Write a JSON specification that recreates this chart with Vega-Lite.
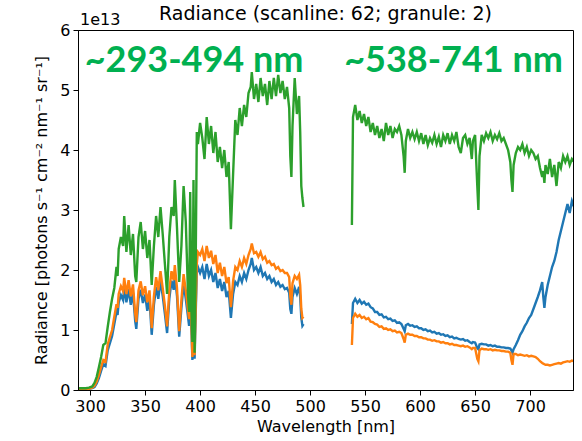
{
  "$schema": "https://vega.github.io/schema/vega-lite/v6.json",
  "autosize": "none",
  "width": 495,
  "height": 360,
  "padding": {"left": 78, "top": 30, "right": 9, "bottom": 51},
  "background": "white",
  "title": {"text": "Radiance (scanline: 62; granule: 2)", "font": "DejaVu Sans", "fontSize": 19, "fontWeight": "normal", "color": "black", "anchor": "middle", "offset": -12},
  "config": {
    "view": {"stroke": "black", "strokeWidth": 1},
    "axis": {"grid": false, "domainColor": "black", "tickColor": "black", "labelColor": "black", "titleColor": "black", "labelFont": "DejaVu Sans", "titleFont": "DejaVu Sans", "labelFontSize": 16, "titleFontSize": 16, "titleFontWeight": "normal", "tickSize": 5, "labelPadding": 3}
  },
  "datasets": {
    "spec": [
      {"w":290,"s":1,"b":0.02,"o":0.02,"g":0.03},
      {"w":293,"s":1,"b":0.02,"o":0.02,"g":0.03},
      {"w":296,"s":1,"b":0.02,"o":0.02,"g":0.03},
      {"w":299,"s":1,"b":0.02,"o":0.02,"g":0.04},
      {"w":302,"s":1,"b":0.03,"o":0.04,"g":0.06},
      {"w":304,"s":1,"b":0.05,"o":0.07,"g":0.12},
      {"w":306,"s":1,"b":0.11,"o":0.14,"g":0.22},
      {"w":308,"s":1,"b":0.2,"o":0.25,"g":0.38},
      {"w":310,"s":1,"b":0.32,"o":0.38,"g":0.55},
      {"w":312,"s":1,"b":0.43,"o":0.5,"g":0.75},
      {"w":314,"s":1,"b":0.4,"o":0.47,"g":0.78},
      {"w":316,"s":1,"b":0.66,"o":0.76,"g":1.05},
      {"w":318,"s":1,"b":0.78,"o":0.88,"g":1.3},
      {"w":320,"s":1,"b":0.9,"o":1.0,"g":1.52},
      {"w":322,"s":1,"b":1.1,"o":1.22,"g":1.7},
      {"w":324,"s":1,"b":1.3,"o":1.43,"g":2.05},
      {"w":325,"s":1,"b":1.25,"o":1.37,"g":1.9},
      {"w":326,"s":1,"b":1.46,"o":1.6,"g":2.35},
      {"w":328,"s":1,"b":1.58,"o":1.73,"g":2.55},
      {"w":330,"s":1,"b":1.5,"o":1.65,"g":2.4},
      {"w":331,"s":1,"b":1.72,"o":1.87,"g":2.9},
      {"w":333,"s":1,"b":1.46,"o":1.6,"g":2.3},
      {"w":335,"s":1,"b":1.68,"o":1.83,"g":2.75},
      {"w":337,"s":1,"b":1.42,"o":1.56,"g":2.25},
      {"w":339,"s":1,"b":1.62,"o":1.76,"g":2.6},
      {"w":341,"s":1,"b":1.15,"o":1.27,"g":1.9},
      {"w":342,"s":1,"b":1.02,"o":1.13,"g":1.8},
      {"w":344,"s":1,"b":1.52,"o":1.66,"g":2.55},
      {"w":346,"s":1,"b":1.67,"o":1.81,"g":2.8},
      {"w":348,"s":1,"b":1.45,"o":1.58,"g":2.35},
      {"w":350,"s":1,"b":1.59,"o":1.73,"g":2.65},
      {"w":352,"s":1,"b":1.32,"o":1.46,"g":2.2},
      {"w":354,"s":1,"b":1.52,"o":1.66,"g":2.5},
      {"w":356,"s":1,"b":0.92,"o":1.03,"g":1.75},
      {"w":358,"s":1,"b":1.42,"o":1.56,"g":2.4},
      {"w":360,"s":1,"b":1.72,"o":1.88,"g":2.9},
      {"w":362,"s":1,"b":1.52,"o":1.66,"g":2.55},
      {"w":364,"s":1,"b":1.82,"o":1.98,"g":3.05},
      {"w":366,"s":1,"b":1.57,"o":1.7,"g":2.6},
      {"w":368,"s":1,"b":1.27,"o":1.4,"g":2.1},
      {"w":370,"s":1,"b":0.95,"o":1.06,"g":1.6},
      {"w":372,"s":1,"b":1.52,"o":1.66,"g":2.55},
      {"w":374,"s":1,"b":1.82,"o":1.98,"g":3.05},
      {"w":376,"s":1,"b":1.67,"o":1.83,"g":2.9},
      {"w":377,"s":1,"b":1.92,"o":2.08,"g":3.5},
      {"w":379,"s":1,"b":1.57,"o":1.7,"g":2.7},
      {"w":381,"s":1,"b":0.89,"o":0.98,"g":1.8},
      {"w":383,"s":1,"b":1.37,"o":1.5,"g":2.4},
      {"w":385,"s":1,"b":1.77,"o":1.93,"g":3.4},
      {"w":387,"s":1,"b":1.52,"o":1.66,"g":2.8},
      {"w":389,"s":1,"b":1.22,"o":1.33,"g":1.6},
      {"w":390,"s":1,"b":1.07,"o":1.18,"g":1.3},
      {"w":391,"s":1,"b":1.62,"o":1.76,"g":3.3},
      {"w":392,"s":1,"b":1.07,"o":1.18,"g":1.4},
      {"w":393,"s":1,"b":0.5,"o":0.55,"g":0.8},
      {"w":394,"s":1,"b":1.47,"o":1.6,"g":3.5},
      {"w":395,"s":1,"b":0.52,"o":0.58,"g":0.62},
      {"w":396,"s":1,"b":1.27,"o":1.38,"g":2.1},
      {"w":397,"s":1,"b":1.95,"o":2.1,"g":4.3},
      {"w":398,"s":1,"b":2.05,"o":2.3,"g":4.1},
      {"w":400,"s":1,"b":1.95,"o":2.25,"g":4.45},
      {"w":402,"s":1,"b":2.05,"o":2.35,"g":4.2},
      {"w":404,"s":1,"b":1.85,"o":2.15,"g":3.85},
      {"w":406,"s":1,"b":2.1,"o":2.4,"g":4.55},
      {"w":408,"s":1,"b":1.9,"o":2.2,"g":4.1},
      {"w":410,"s":1,"b":2.0,"o":2.32,"g":4.4},
      {"w":412,"s":1,"b":1.8,"o":2.1,"g":3.95},
      {"w":414,"s":1,"b":1.95,"o":2.25,"g":4.3},
      {"w":416,"s":1,"b":1.7,"o":1.95,"g":3.8},
      {"w":418,"s":1,"b":1.85,"o":2.12,"g":4.05},
      {"w":420,"s":1,"b":1.65,"o":1.9,"g":3.7},
      {"w":422,"s":1,"b":1.8,"o":2.05,"g":4.0},
      {"w":424,"s":1,"b":1.55,"o":1.78,"g":3.55},
      {"w":426,"s":1,"b":1.65,"o":1.88,"g":3.8},
      {"w":428,"s":1,"b":1.2,"o":1.38,"g":2.68},
      {"w":430,"s":1,"b":1.6,"o":1.82,"g":3.6},
      {"w":432,"s":1,"b":1.8,"o":2.05,"g":4.5},
      {"w":434,"s":1,"b":1.75,"o":2.0,"g":4.25},
      {"w":436,"s":1,"b":1.9,"o":2.15,"g":4.7},
      {"w":438,"s":1,"b":1.8,"o":2.05,"g":4.4},
      {"w":440,"s":1,"b":1.95,"o":2.2,"g":4.75},
      {"w":442,"s":1,"b":1.85,"o":2.1,"g":4.55},
      {"w":444,"s":1,"b":2.0,"o":2.25,"g":4.95},
      {"w":446,"s":1,"b":2.1,"o":2.35,"g":5.05},
      {"w":447,"s":1,"b":2.2,"o":2.44,"g":5.3},
      {"w":449,"s":1,"b":2.0,"o":2.28,"g":4.85},
      {"w":451,"s":1,"b":2.05,"o":2.3,"g":5.1},
      {"w":453,"s":1,"b":1.95,"o":2.22,"g":4.8},
      {"w":455,"s":1,"b":2.05,"o":2.3,"g":5.2},
      {"w":457,"s":1,"b":1.9,"o":2.18,"g":4.9},
      {"w":459,"s":1,"b":1.95,"o":2.22,"g":5.1},
      {"w":461,"s":1,"b":1.85,"o":2.12,"g":4.75},
      {"w":463,"s":1,"b":1.9,"o":2.15,"g":5.15},
      {"w":465,"s":1,"b":1.8,"o":2.08,"g":4.85},
      {"w":467,"s":1,"b":1.85,"o":2.1,"g":5.2},
      {"w":469,"s":1,"b":1.75,"o":2.02,"g":4.9},
      {"w":471,"s":1,"b":1.8,"o":2.05,"g":5.25},
      {"w":473,"s":1,"b":1.72,"o":1.98,"g":4.95},
      {"w":475,"s":1,"b":1.75,"o":2.0,"g":5.15},
      {"w":477,"s":1,"b":1.68,"o":1.95,"g":4.85},
      {"w":479,"s":1,"b":1.7,"o":1.95,"g":5.05},
      {"w":481,"s":1,"b":1.62,"o":1.88,"g":4.7},
      {"w":482,"s":1,"b":1.35,"o":1.55,"g":3.9},
      {"w":483,"s":1,"b":1.27,"o":1.42,"g":3.55},
      {"w":484,"s":1,"b":1.55,"o":1.78,"g":4.4},
      {"w":486,"s":1,"b":1.7,"o":1.9,"g":5.2},
      {"w":488,"s":1,"b":1.6,"o":1.85,"g":4.6},
      {"w":490,"s":1,"b":1.72,"o":1.92,"g":4.9},
      {"w":491,"s":1,"b":1.55,"o":1.75,"g":4.3},
      {"w":492,"s":1,"b":1.2,"o":1.35,"g":3.4},
      {"w":493,"s":1,"b":1.07,"o":1.2,"g":3.2},
      {"w":494,"s":1,"b":1.1,"o":1.22,"g":3.05},
      {"w":538,"s":2,"b":1.1,"o":0.75,"g":2.75},
      {"w":539,"s":2,"b":1.45,"o":1.2,"g":4.55},
      {"w":541,"s":2,"b":1.52,"o":1.27,"g":4.75},
      {"w":543,"s":2,"b":1.45,"o":1.22,"g":4.5},
      {"w":545,"s":2,"b":1.5,"o":1.25,"g":4.65},
      {"w":547,"s":2,"b":1.44,"o":1.2,"g":4.45},
      {"w":549,"s":2,"b":1.47,"o":1.22,"g":4.6},
      {"w":551,"s":2,"b":1.42,"o":1.18,"g":4.4},
      {"w":553,"s":2,"b":1.44,"o":1.2,"g":4.55},
      {"w":555,"s":2,"b":1.38,"o":1.14,"g":4.3},
      {"w":557,"s":2,"b":1.36,"o":1.13,"g":4.45},
      {"w":559,"s":2,"b":1.3,"o":1.1,"g":4.25},
      {"w":561,"s":2,"b":1.3,"o":1.09,"g":4.4},
      {"w":563,"s":2,"b":1.25,"o":1.05,"g":4.2},
      {"w":565,"s":2,"b":1.26,"o":1.06,"g":4.35},
      {"w":567,"s":2,"b":1.21,"o":1.02,"g":4.15},
      {"w":569,"s":2,"b":1.22,"o":1.03,"g":4.45},
      {"w":571,"s":2,"b":1.18,"o":1.0,"g":4.25},
      {"w":573,"s":2,"b":1.19,"o":1.01,"g":4.4},
      {"w":575,"s":2,"b":1.15,"o":0.98,"g":4.2},
      {"w":577,"s":2,"b":1.16,"o":0.99,"g":4.35},
      {"w":579,"s":2,"b":1.12,"o":0.96,"g":4.3},
      {"w":581,"s":2,"b":1.13,"o":0.97,"g":4.4},
      {"w":583,"s":2,"b":1.1,"o":0.95,"g":4.25},
      {"w":585,"s":2,"b":1.02,"o":0.85,"g":3.9},
      {"w":586,"s":2,"b":0.98,"o":0.79,"g":3.62},
      {"w":587,"s":2,"b":1.08,"o":0.92,"g":4.15},
      {"w":589,"s":2,"b":1.1,"o":0.94,"g":4.35},
      {"w":591,"s":2,"b":1.07,"o":0.92,"g":4.2},
      {"w":593,"s":2,"b":1.08,"o":0.92,"g":4.3},
      {"w":595,"s":2,"b":1.05,"o":0.9,"g":4.18},
      {"w":597,"s":2,"b":1.06,"o":0.9,"g":4.3},
      {"w":599,"s":2,"b":1.03,"o":0.88,"g":4.15},
      {"w":601,"s":2,"b":1.03,"o":0.88,"g":4.28},
      {"w":603,"s":2,"b":1.0,"o":0.86,"g":4.1},
      {"w":605,"s":2,"b":1.01,"o":0.86,"g":4.25},
      {"w":607,"s":2,"b":0.98,"o":0.84,"g":4.08},
      {"w":609,"s":2,"b":0.99,"o":0.84,"g":4.2},
      {"w":611,"s":2,"b":0.96,"o":0.82,"g":4.12},
      {"w":613,"s":2,"b":0.97,"o":0.83,"g":4.25},
      {"w":615,"s":2,"b":0.94,"o":0.81,"g":4.1},
      {"w":617,"s":2,"b":0.95,"o":0.81,"g":4.22},
      {"w":619,"s":2,"b":0.92,"o":0.79,"g":4.05},
      {"w":621,"s":2,"b":0.93,"o":0.8,"g":4.25},
      {"w":623,"s":2,"b":0.9,"o":0.78,"g":4.15},
      {"w":625,"s":2,"b":0.91,"o":0.78,"g":4.28},
      {"w":627,"s":2,"b":0.88,"o":0.76,"g":4.1},
      {"w":629,"s":2,"b":0.89,"o":0.77,"g":4.25},
      {"w":631,"s":2,"b":0.86,"o":0.75,"g":4.15},
      {"w":633,"s":2,"b":0.87,"o":0.75,"g":4.3},
      {"w":635,"s":2,"b":0.85,"o":0.74,"g":4.05},
      {"w":637,"s":2,"b":0.84,"o":0.73,"g":3.95},
      {"w":639,"s":2,"b":0.85,"o":0.74,"g":4.2},
      {"w":641,"s":2,"b":0.82,"o":0.72,"g":4.25},
      {"w":643,"s":2,"b":0.83,"o":0.73,"g":4.1},
      {"w":645,"s":2,"b":0.8,"o":0.71,"g":4.2},
      {"w":647,"s":2,"b":0.78,"o":0.68,"g":3.85},
      {"w":648,"s":2,"b":0.8,"o":0.7,"g":4.15},
      {"w":650,"s":2,"b":0.79,"o":0.7,"g":4.25},
      {"w":652,"s":2,"b":0.7,"o":0.52,"g":3.4},
      {"w":653,"s":2,"b":0.68,"o":0.48,"g":3.0},
      {"w":654,"s":2,"b":0.76,"o":0.66,"g":3.9},
      {"w":656,"s":2,"b":0.77,"o":0.69,"g":4.25},
      {"w":658,"s":2,"b":0.76,"o":0.68,"g":4.15},
      {"w":660,"s":2,"b":0.76,"o":0.68,"g":4.28},
      {"w":662,"s":2,"b":0.74,"o":0.67,"g":4.2},
      {"w":664,"s":2,"b":0.75,"o":0.68,"g":4.3},
      {"w":666,"s":2,"b":0.73,"o":0.66,"g":4.15},
      {"w":668,"s":2,"b":0.74,"o":0.67,"g":4.25},
      {"w":670,"s":2,"b":0.72,"o":0.66,"g":4.18},
      {"w":672,"s":2,"b":0.72,"o":0.66,"g":4.28},
      {"w":674,"s":2,"b":0.71,"o":0.65,"g":4.15},
      {"w":676,"s":2,"b":0.71,"o":0.65,"g":4.2},
      {"w":678,"s":2,"b":0.7,"o":0.64,"g":4.1},
      {"w":680,"s":2,"b":0.7,"o":0.64,"g":4.0},
      {"w":682,"s":2,"b":0.69,"o":0.62,"g":3.8},
      {"w":683,"s":2,"b":0.66,"o":0.5,"g":3.5},
      {"w":684,"s":2,"b":0.62,"o":0.42,"g":3.3},
      {"w":685,"s":2,"b":0.68,"o":0.6,"g":3.75},
      {"w":687,"s":2,"b":0.75,"o":0.6,"g":3.95},
      {"w":689,"s":2,"b":0.83,"o":0.58,"g":4.05},
      {"w":691,"s":2,"b":0.92,"o":0.59,"g":4.0},
      {"w":693,"s":2,"b":0.98,"o":0.58,"g":4.1},
      {"w":695,"s":2,"b":1.06,"o":0.57,"g":3.95},
      {"w":697,"s":2,"b":1.12,"o":0.58,"g":4.05},
      {"w":699,"s":2,"b":1.2,"o":0.56,"g":3.9},
      {"w":701,"s":2,"b":1.25,"o":0.57,"g":4.0},
      {"w":703,"s":2,"b":1.35,"o":0.56,"g":3.95},
      {"w":705,"s":2,"b":1.45,"o":0.55,"g":3.85},
      {"w":707,"s":2,"b":1.55,"o":0.52,"g":3.9},
      {"w":709,"s":2,"b":1.66,"o":0.48,"g":3.7},
      {"w":711,"s":2,"b":1.8,"o":0.45,"g":3.55},
      {"w":712,"s":2,"b":1.55,"o":0.44,"g":3.65},
      {"w":713,"s":2,"b":1.37,"o":0.43,"g":3.45},
      {"w":714,"s":2,"b":1.55,"o":0.42,"g":3.75},
      {"w":716,"s":2,"b":1.75,"o":0.42,"g":3.6},
      {"w":718,"s":2,"b":1.9,"o":0.41,"g":3.85},
      {"w":720,"s":2,"b":2.05,"o":0.42,"g":3.55},
      {"w":722,"s":2,"b":2.15,"o":0.43,"g":3.75},
      {"w":724,"s":2,"b":2.3,"o":0.44,"g":3.4},
      {"w":726,"s":2,"b":2.5,"o":0.45,"g":3.8},
      {"w":728,"s":2,"b":2.65,"o":0.44,"g":3.7},
      {"w":730,"s":2,"b":2.8,"o":0.46,"g":3.9},
      {"w":732,"s":2,"b":2.95,"o":0.47,"g":3.8},
      {"w":734,"s":2,"b":3.1,"o":0.48,"g":3.9},
      {"w":736,"s":2,"b":2.95,"o":0.47,"g":3.75},
      {"w":738,"s":2,"b":3.15,"o":0.49,"g":3.85},
      {"w":740,"s":2,"b":3.05,"o":0.48,"g":3.8},
      {"w":741,"s":2,"b":3.1,"o":0.49,"g":3.85}
    ],
    "notes": [
      {"label": "~293-494 nm", "w": 394.5, "r": 5.3},
      {"label": "~538-741 nm", "w": 630.4, "r": 5.3}
    ]
  },
  "layer": [
    {
      "data": {"name": "spec"},
      "mark": {"type": "line", "color": "#1f77b4", "strokeWidth": 2.4, "clip": true},
      "encoding": {
        "x": {"field": "w", "type": "quantitative", "scale": {"domain": [289, 739], "nice": false, "zero": false},
              "axis": {"title": "Wavelength [nm]", "values": [300, 350, 400, 450, 500, 550, 600, 650, 700], "format": "d", "titlePadding": 4}},
        "y": {"field": "b", "type": "quantitative", "scale": {"domain": [0, 6], "nice": false},
              "axis": {"title": "Radiance [photons s⁻¹ cm⁻² nm⁻¹ sr⁻¹]", "values": [0, 1, 2, 3, 4, 5, 6], "format": "d", "titlePadding": 10}},
        "detail": {"field": "s"}
      }
    },
    {
      "data": {"name": "spec"},
      "mark": {"type": "line", "color": "#ff7f0e", "strokeWidth": 2.4, "clip": true},
      "encoding": {
        "x": {"field": "w", "type": "quantitative"},
        "y": {"field": "o", "type": "quantitative"},
        "detail": {"field": "s"}
      }
    },
    {
      "data": {"name": "spec"},
      "mark": {"type": "line", "color": "#2ca02c", "strokeWidth": 2.4, "clip": true},
      "encoding": {
        "x": {"field": "w", "type": "quantitative"},
        "y": {"field": "g", "type": "quantitative"},
        "detail": {"field": "s"}
      }
    },
    {
      "data": {"name": "notes"},
      "mark": {"type": "text", "font": "Lato", "fontWeight": "bold", "fontSize": 36, "color": "#00b050", "align": "center", "baseline": "alphabetic"},
      "encoding": {
        "x": {"field": "w", "type": "quantitative"},
        "y": {"field": "r", "type": "quantitative"},
        "text": {"field": "label"}
      }
    },
    {
      "data": {"values": [{"t": "1e13"}]},
      "mark": {"type": "text", "font": "DejaVu Sans", "fontSize": 16, "color": "black", "align": "left", "baseline": "bottom", "dx": 2, "dy": -2},
      "encoding": {
        "x": {"datum": 289},
        "y": {"datum": 6},
        "text": {"field": "t"}
      }
    }
  ]
}
